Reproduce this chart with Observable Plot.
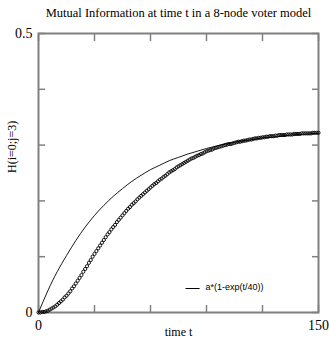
<!DOCTYPE html>
<html>
<head>
<meta charset="utf-8">
<script src="https://cdn.jsdelivr.net/npm/d3@7"></script>
<script src="https://cdn.jsdelivr.net/npm/@observablehq/plot@0.6"></script>
<style>
  html, body { margin: 0; padding: 0; background: #fff; }
</style>
</head>
<body>
<div id="chart"></div>
<script>
const titleText = "Mutual Information at time t in a 8-node voter model";
const xLabel = "time t";
const yLabel = "H(i=0;j=3)";
const legendLabel = "a*(1-exp(t/40))";

// measured mutual information, one value per time step t = 0..150
const miValues = [
  0.000, 0.000, 0.001, 0.001, 0.002, 0.003, 0.005, 0.007, 0.009, 0.011,
  0.014, 0.017, 0.020, 0.023, 0.027, 0.030, 0.034, 0.038, 0.043, 0.047,
  0.052, 0.057, 0.062, 0.067, 0.073, 0.078, 0.083, 0.089, 0.094, 0.100,
  0.105, 0.110, 0.115, 0.120, 0.125, 0.130, 0.135, 0.140, 0.144, 0.149,
  0.153, 0.157, 0.162, 0.166, 0.170, 0.174, 0.178, 0.182, 0.186, 0.189,
  0.193, 0.196, 0.199, 0.203, 0.206, 0.209, 0.212, 0.215, 0.218, 0.221,
  0.224, 0.227, 0.230, 0.232, 0.235, 0.238, 0.240, 0.243, 0.245, 0.248,
  0.251, 0.253, 0.255, 0.257, 0.260, 0.262, 0.264, 0.266, 0.268, 0.270,
  0.272, 0.274, 0.276, 0.277, 0.279, 0.281, 0.282, 0.284, 0.285, 0.287,
  0.289, 0.290, 0.291, 0.292, 0.294, 0.295, 0.296, 0.297, 0.298, 0.299,
  0.300, 0.301, 0.302, 0.302, 0.303, 0.304, 0.305, 0.306, 0.306, 0.307,
  0.308, 0.308, 0.309, 0.310, 0.310, 0.311, 0.312, 0.312, 0.313, 0.313,
  0.314, 0.314, 0.315, 0.315, 0.316, 0.316, 0.316, 0.317, 0.317, 0.318,
  0.318, 0.318, 0.318, 0.319, 0.319, 0.319, 0.319, 0.320, 0.320, 0.320,
  0.320, 0.321, 0.321, 0.321, 0.321, 0.321, 0.321, 0.322, 0.322, 0.322,
  0.322
];

// fitted curve a*(1-exp(-t/40)), read at every 5 time steps
const fitTimes = [0,5,10,15,20,25,30,35,40,45,50,55,60,65,70,75,80,85,90,95,100,105,110,115,120,125,130,135,140,145,150];
const fitValues = [0.000,0.039,0.073,0.102,0.129,0.153,0.174,0.192,0.208,0.222,0.235,0.246,0.256,0.264,0.272,0.278,0.284,0.289,0.294,0.298,0.302,0.305,0.308,0.310,0.313,0.314,0.316,0.318,0.319,0.320,0.321];

const xTickMarks = [0, 30, 60, 90, 120, 150];
const xTickLabels = [0, 150];
const yTickMarks = [0, 0.1, 0.2, 0.3, 0.4, 0.5];
const yTickLabels = [0, 0.5];

const miData = miValues.map((v, t) => ({t, v}));
const fitData = fitTimes.map((t, i) => ({t, v: fitValues[i]}));

const axisGray = "#808080";
const serif = "'Liberation Serif', 'DejaVu Serif', serif";
const sans = "'Liberation Sans', Arial, sans-serif";

const chart = Plot.plot({
  width: 329,
  height: 342,
  marginTop: 33,
  marginLeft: 38,
  marginRight: 11,
  marginBottom: 30,
  style: {fontFamily: serif, fontSize: "14px", background: "#fff", color: "#000"},
  x: {domain: [0, 150], axis: null},
  y: {domain: [0, 0.5], axis: null},
  marks: [
    // inward tick marks on all four sides
    Plot.axisX({anchor: "bottom", ticks: xTickMarks, tickSize: 7, dy: -7, tickFormat: () => "", stroke: axisGray, strokeWidth: 1.5, label: null}),
    Plot.axisX({anchor: "top", ticks: xTickMarks, tickSize: 7, dy: 7, tickFormat: () => "", stroke: axisGray, strokeWidth: 1.5, label: null}),
    Plot.axisY({anchor: "left", ticks: yTickMarks, tickSize: 7, dx: 7, tickFormat: () => "", stroke: axisGray, strokeWidth: 1.5, label: null}),
    Plot.axisY({anchor: "right", ticks: yTickMarks, tickSize: 7, dx: -7, tickFormat: () => "", stroke: axisGray, strokeWidth: 1.5, label: null}),
    // tick labels
    Plot.axisX({anchor: "bottom", ticks: xTickLabels, tickSize: 0, tickPadding: 8, tickFormat: d => String(d), fontSize: 14, label: null, fill: "#000"}),
    Plot.axisY({anchor: "left", ticks: yTickLabels, tickSize: 0, tickPadding: 6, tickFormat: d => String(d), fontSize: 14, label: null, fill: "#000"}),
    Plot.frame({stroke: axisGray, strokeWidth: 2}),
    // fitted curve
    Plot.line(fitData, {x: "t", y: "v", stroke: "#000", strokeWidth: 0.9, curve: "natural"}),
    // measured data
    Plot.dot(miData, {x: "t", y: "v", r: 1.6, stroke: "#000", strokeWidth: 0.9, fill: "none"}),
    // legend
    Plot.text(["—"], {frameAnchor: "bottom-right", dx: -133, dy: -25, textAnchor: "start", lineAnchor: "middle", fontFamily: sans, fontSize: 14, fill: "#000"}),
    Plot.text([legendLabel], {frameAnchor: "bottom-right", dx: -113, dy: -25, textAnchor: "start", lineAnchor: "middle", fontFamily: sans, fontSize: 9, fill: "#000"}),
    // title & axis labels
    Plot.text([titleText], {frameAnchor: "top", dy: -21, lineAnchor: "middle", fontSize: 12.5, fill: "#000"}),
    Plot.text([xLabel], {frameAnchor: "bottom", dy: 20, lineAnchor: "middle", fontSize: 12, fill: "#000"}),
    Plot.text([yLabel], {frameAnchor: "left", dx: -26, rotate: -90, lineAnchor: "middle", fontSize: 12, fill: "#000"})
  ]
});

document.getElementById("chart").appendChild(chart);
</script>
</body>
</html>
